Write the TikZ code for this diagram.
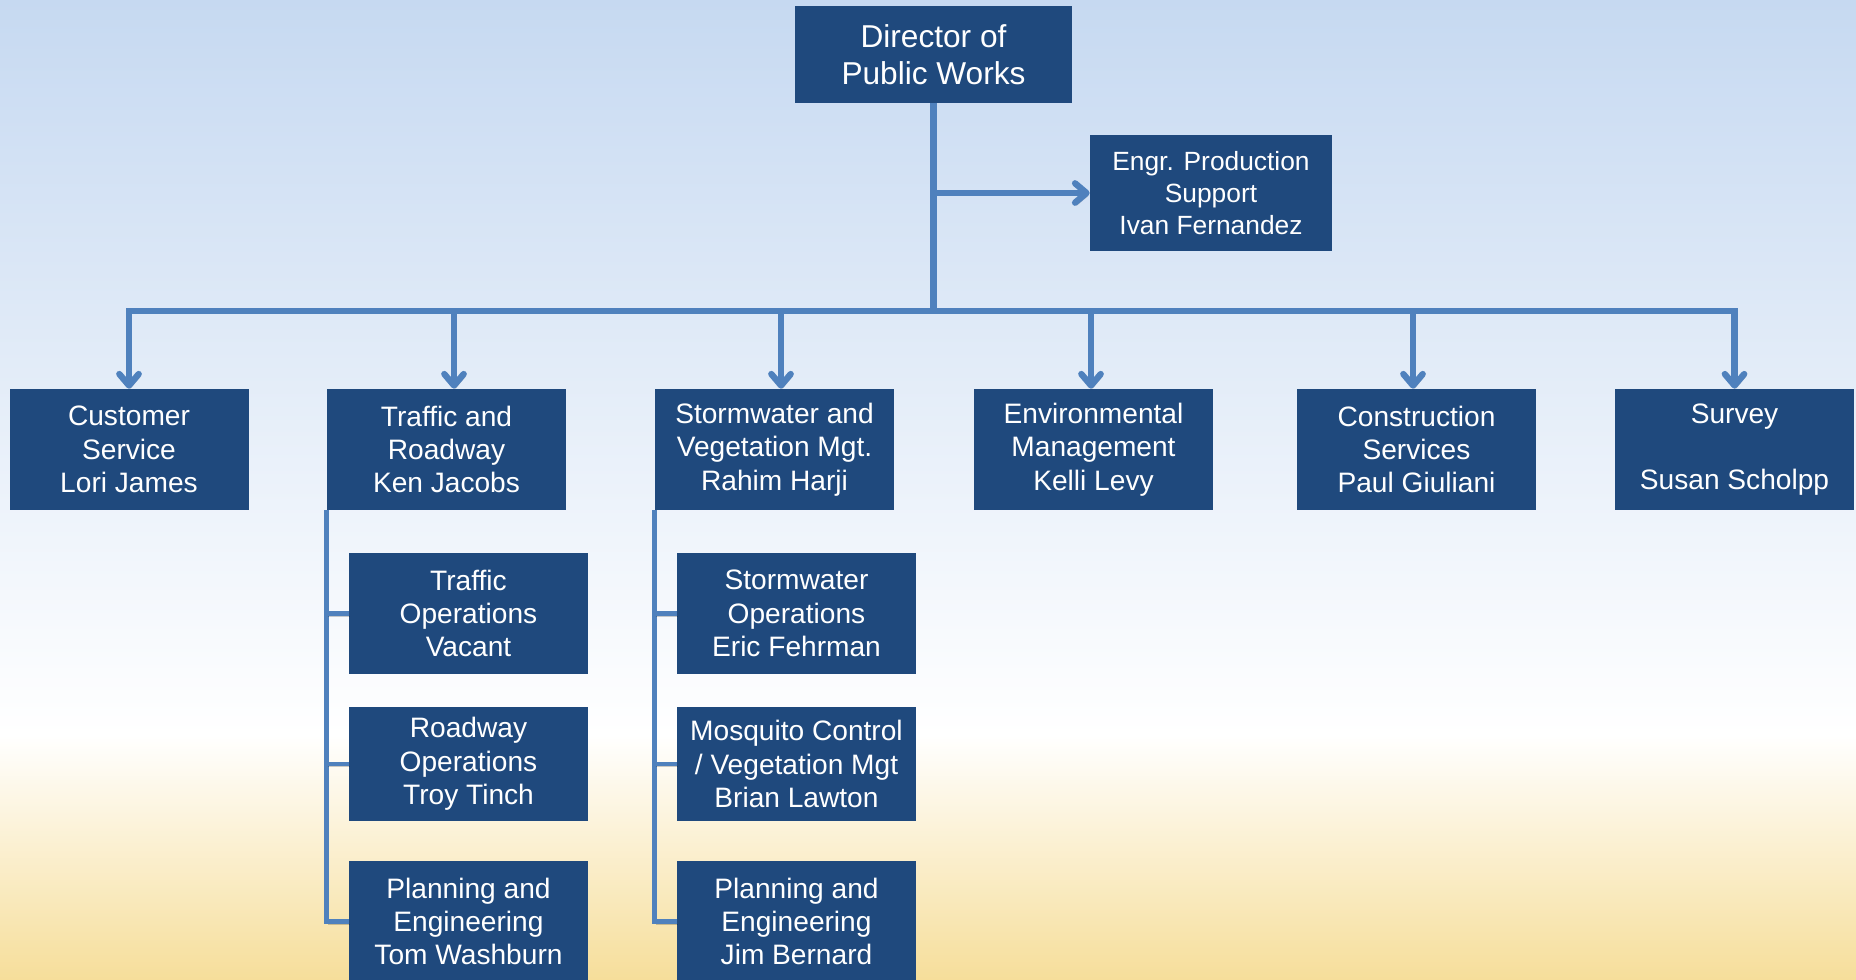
\documentclass[tikz,border=0pt]{standalone}
\usepackage{fontspec}
\setmainfont{Liberation Sans}
\usepackage{xcolor}
\usepackage{tikz}
\usetikzlibrary{arrows.meta}

\definecolor{boxblue}{RGB}{31,73,125}
\definecolor{lineblue}{RGB}{79,129,189}
\definecolor{skyblue}{RGB}{198,217,241}
\definecolor{sandgold}{RGB}{246,222,154}
\pgfdeclareverticalshading{bgshade}{100bp}{color(0bp)=(sandgold); color(25bp)=(sandgold);
  color(37.5bp)=(white); color(75bp)=(skyblue); color(100bp)=(skyblue)}

\begin{document}
\begin{tikzpicture}[
    unit/.style={fill=boxblue, text=white, align=center, inner sep=0pt,
      minimum width=4.78cm, minimum height=2.42cm, font=\fontsize{16}{19}\selectfont},
    lineshadow/.style={preaction={draw=black, opacity=0.2,
      transform canvas={xshift=0.8pt, yshift=-1.6pt}}},
    bus/.style={draw=lineblue, line width=3.6pt, lineshadow},
    link/.style={bus, -{Straight Barb[length=6.5pt,width=11pt,round]}},
    branch/.style={draw=lineblue, line width=2.8pt, lineshadow}]
  \useasboundingbox (0,0) rectangle (37.12,19.6);
  \shade[shading=bgshade] (0,0) rectangle (37.12,19.6);

  % top
  \node[unit, minimum width=5.54cm, minimum height=1.94cm, font=\fontsize{18}{21}\selectfont]
    (director) at (18.67,18.51) {Director of\\Public Works};
  \node[unit, minimum width=4.84cm, minimum height=2.32cm, font=\fontsize{15}{18}\selectfont]
    (engr) at (24.22,15.74) {Engr. Production\\Support\\Ivan Fernandez};

  % divisions
  \node[unit] (customer)  at (2.58,10.61)  {Customer\\Service\\Lori James};
  \node[unit] (traffic)   at (8.93,10.61)  {Traffic and\\Roadway\\Ken Jacobs};
  \node[unit] (storm)     at (15.49,10.61) {Stormwater and\\Vegetation Mgt.\\Rahim Harji};
  \node[unit] (environ)   at (21.87,10.61) {Environmental\\Management\\Kelli Levy};
  \node[unit] (construct) at (28.33,10.61) {Construction\\Services\\Paul Giuliani};
  \node[unit] (survey)    at (34.69,10.61) {Survey\\~\\Susan Scholpp};

  % sections
  \node[unit] (trafops)  at (9.37,7.33) {Traffic\\Operations\\Vacant};
  \node[unit, minimum height=2.28cm] (roadops) at (9.37,4.32) {Roadway\\Operations\\Troy Tinch};
  \node[unit] (trafplan) at (9.37,1.17) {Planning and\\Engineering\\Tom Washburn};
  \node[unit] (stormops) at (15.93,7.33) {Stormwater\\Operations\\Eric Fehrman};
  \node[unit, minimum height=2.28cm] (mosquito) at (15.93,4.32) {Mosquito Control\\/ Vegetation Mgt\\Brian Lawton};
  \node[unit] (stormplan) at (15.93,1.17) {Planning and\\Engineering\\Jim Bernard};

  % connectors
  \coordinate (hub) at (director.south |- 0,13.38);
  \draw[bus] (director.south) -- (hub);
  \draw[link] (director.south |- engr.west) -- (engr.west);
  \draw[bus, line cap=rect] (customer.north |- hub) -- (survey.north |- hub);
  \foreach \n/\dx in {customer/0,traffic/0.15,storm/0.13,environ/-0.05,construct/-0.07,survey/0}
    \draw[link] ([xshift=\dx cm]\n.north |- hub) -- ([xshift=\dx cm]\n.north);

  \draw[branch] (traffic.south west) |- (trafplan.west);
  \foreach \n in {trafops,roadops}
    \draw[branch] (traffic.south west |- \n.west) -- (\n.west);
  \draw[branch] (storm.south west) |- (stormplan.west);
  \foreach \n in {stormops,mosquito}
    \draw[branch] (storm.south west |- \n.west) -- (\n.west);
\end{tikzpicture}
\end{document}
